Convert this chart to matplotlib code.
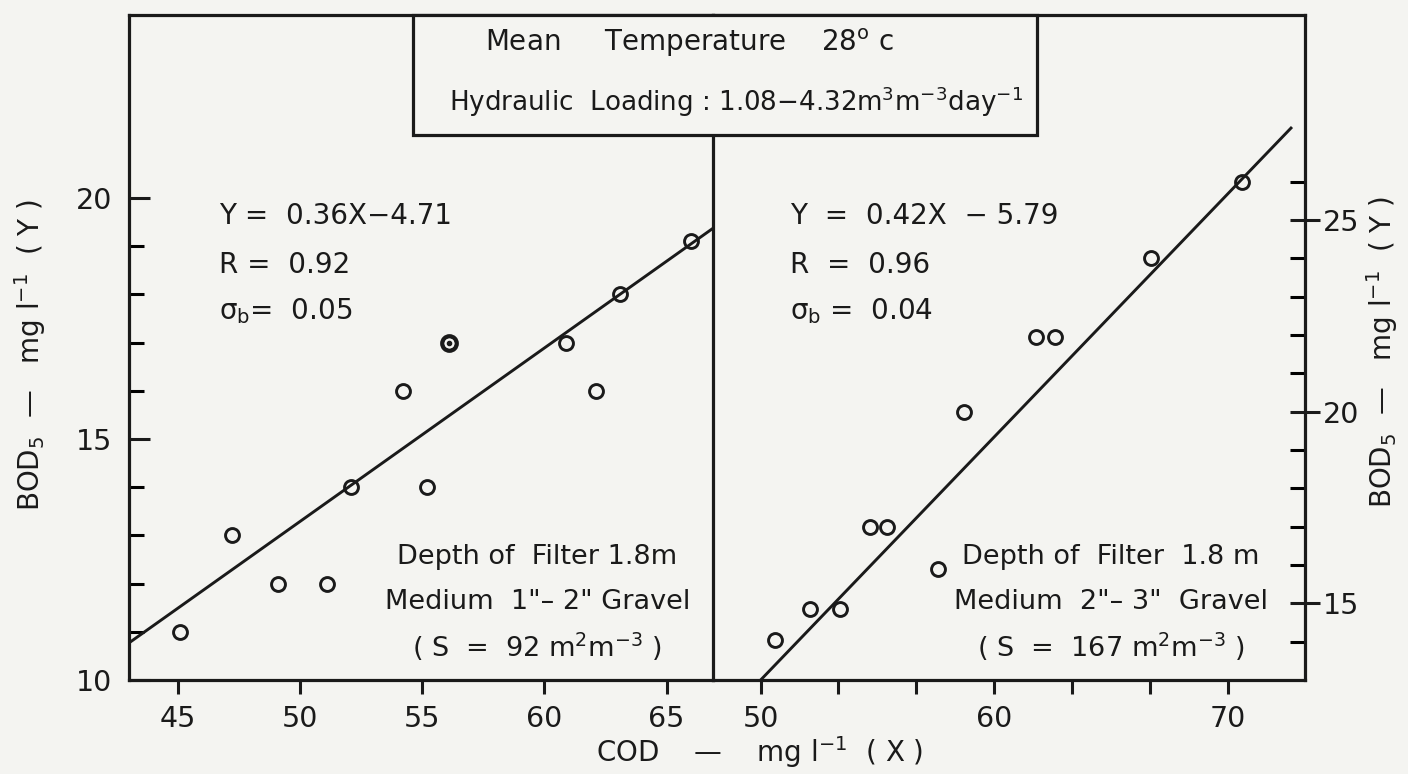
import matplotlib.pyplot as plt
from matplotlib.patches import Rectangle

plt.rcParams["font.family"] = ["DejaVu Sans"]
plt.rcParams["mathtext.default"] = "regular"

# Filter with 1"-2" gravel
left_cod = [45.1, 47.2, 49.1, 51.1, 52.1, 54.2, 55.2, 56.1, 60.9, 62.1, 63.1, 66.0]
left_bod = [11.0, 13.0, 12.0, 12.0, 14.0, 16.0, 14.0, 17.0, 17.0, 16.0, 18.0, 19.1]
left_ringed = [7]  # overlapping readings, drawn as a ringed dot
left_slope, left_icpt = 0.36, -4.71
left_fit_x = [43.0, 66.9]

# Filter with 2"-3" gravel
right_cod = [50.6, 52.1, 53.4, 54.7, 55.4, 57.6, 58.7, 61.8, 62.6, 66.7, 70.6]
right_bod = [14.05, 14.85, 14.85, 17.0, 17.0, 15.9, 20.0, 21.95, 21.95, 24.0, 26.0]
right_fit_x = [50.0, 72.7]
right_fit_y = [13.0, 27.4]

left_xticks = [45, 50, 55, 60, 65]
right_xticks = [50, 60, 70]
right_xminor = [53.33, 56.67, 63.33, 66.67]

FS = 20
INK = "#1a1a1a"
PAPER = "#f4f4f1"

fig = plt.figure(figsize=(14.08, 7.74), dpi=100, facecolor=PAPER)
W, H = 1408, 774


def frac(x0, x1, ytop, ybot):
    return [x0 / W, 1 - ybot / H, (x1 - x0) / W, (ybot - ytop) / H]


axl = fig.add_axes(frac(129, 713, 15, 680))
axr = fig.add_axes(frac(713, 1305, 15, 680))

for ax in (axl, axr):
    ax.set_facecolor("none")
    for sp in ax.spines.values():
        sp.set_linewidth(2.3)
        sp.set_color(INK)
axr.spines["left"].set_visible(False)

# left panel
axl.set_xlim(43.0, 66.9)
axl.set_ylim(10.0, 23.8)
axl.plot(left_cod, left_bod, "o", ms=10, mfc="none", mec=INK, mew=2.1)
for i in left_ringed:
    axl.plot(left_cod[i], left_bod[i], "o", ms=10.5, mfc="none", mec=INK, mew=3.0)
    axl.plot(left_cod[i], left_bod[i], "o", ms=3, color=INK)
fx = left_fit_x
axl.plot(fx, [left_slope * x + left_icpt for x in fx], color=INK, lw=2.1)

axl.set_xticks(left_xticks)
axl.set_yticks([10, 15, 20])
axl.set_yticks([11, 12, 13, 14, 16, 17, 18, 19], minor=True)
axl.tick_params(axis="x", direction="out", length=10, width=2.2, labelsize=FS + 0.5, pad=8, colors=INK)
axl.tick_params(axis="y", which="major", direction="in", length=15, width=2.2, labelsize=FS + 0.5, pad=12, colors=INK)
axl.tick_params(axis="y", which="minor", direction="in", length=11, width=2.2)

# right panel
axr.set_xlim(47.96, 73.3)
axr.set_ylim(13.0, 30.35)
axr.plot(right_cod, right_bod, "o", ms=10, mfc="none", mec=INK, mew=2.1)
axr.plot(right_fit_x, right_fit_y, color=INK, lw=2.1)

axr.set_xticks(right_xticks)
axr.set_xticks(right_xminor, minor=True)
axr.yaxis.tick_right()
axr.set_yticks([15, 20, 25])
axr.set_yticks([14, 16, 17, 18, 19, 21, 22, 23, 24, 26], minor=True)
axr.tick_params(axis="x", which="both", direction="out", length=10, width=2.2, labelsize=FS + 0.5, pad=8, colors=INK)
axr.tick_params(axis="y", which="major", direction="inout", length=22, width=2.2, labelsize=FS + 0.5, pad=2, colors=INK)
axr.tick_params(axis="y", which="minor", direction="in", length=11, width=2.2)

# regression statistics
stats_l = ["Y =  0.36X\u22124.71", "R =  0.92", "\u03c3$_b$=  0.05"]
stats_r = ["Y  =  0.42X  \u2212 5.79", "R  =  0.96", "\u03c3$_b$ =  0.04"]
for ax, x0, lines in ((axl, 0.154, stats_l), (axr, 0.130, stats_r)):
    for y, s in zip((0.697, 0.624, 0.555), lines):
        ax.text(x0, y, s, transform=ax.transAxes, fontsize=FS, color=INK,
                ha="left", va="center")

media_l = ["Depth of  Filter 1.8m", "Medium  1\"\u2013 2\" Gravel",
           "( S  =  92 m$^2$m$^{-3}$ )"]
media_r = ["Depth of  Filter  1.8 m", "Medium  2\"\u2013 3\"  Gravel",
           "( S  =  167 m$^2$m$^{-3}$ )"]
for ax, xc, lines in ((axl, 0.699, media_l), (axr, 0.672, media_r)):
    for y, s in zip((0.185, 0.117, 0.050), lines):
        ax.text(xc, y, s, transform=ax.transAxes, fontsize=FS - 0.5, color=INK,
                ha="center", va="center")

# conditions box over the top of the divider
box = Rectangle((413 / W, 1 - 135 / H), (1037 - 413) / W, (135 - 15) / H,
                transform=fig.transFigure, facecolor=PAPER, edgecolor=INK,
                lw=2.3, zorder=5)
fig.add_artist(box)
fig.text(485 / W, 1 - 43 / H, "Mean     Temperature    28$^{o}$ c", fontsize=FS,
         color=INK, ha="left", va="center", zorder=6)
fig.text(449 / W, 1 - 102 / H,
         "Hydraulic  Loading : 1.08\u22124.32m$^3$m$^{-3}$day$^{-1}$",
         fontsize=FS - 1.2, color=INK, ha="left", va="center", zorder=6)

# axis titles
ylab = "BOD$_5$  \u2014   mg l$^{-1}$  ( Y )"
fig.text(30 / W, 1 - 355 / H, ylab, rotation=90, fontsize=FS, color=INK,
         ha="center", va="center")
fig.text(1382 / W, 1 - 352 / H, ylab, rotation=90, fontsize=FS, color=INK,
         ha="center", va="center")
fig.text(760 / W, 1 - 752 / H, "COD    \u2014    mg l$^{-1}$  ( X )", fontsize=FS,
         color=INK, ha="center", va="center")

fig.savefig("out.png", dpi=100, facecolor=PAPER)
